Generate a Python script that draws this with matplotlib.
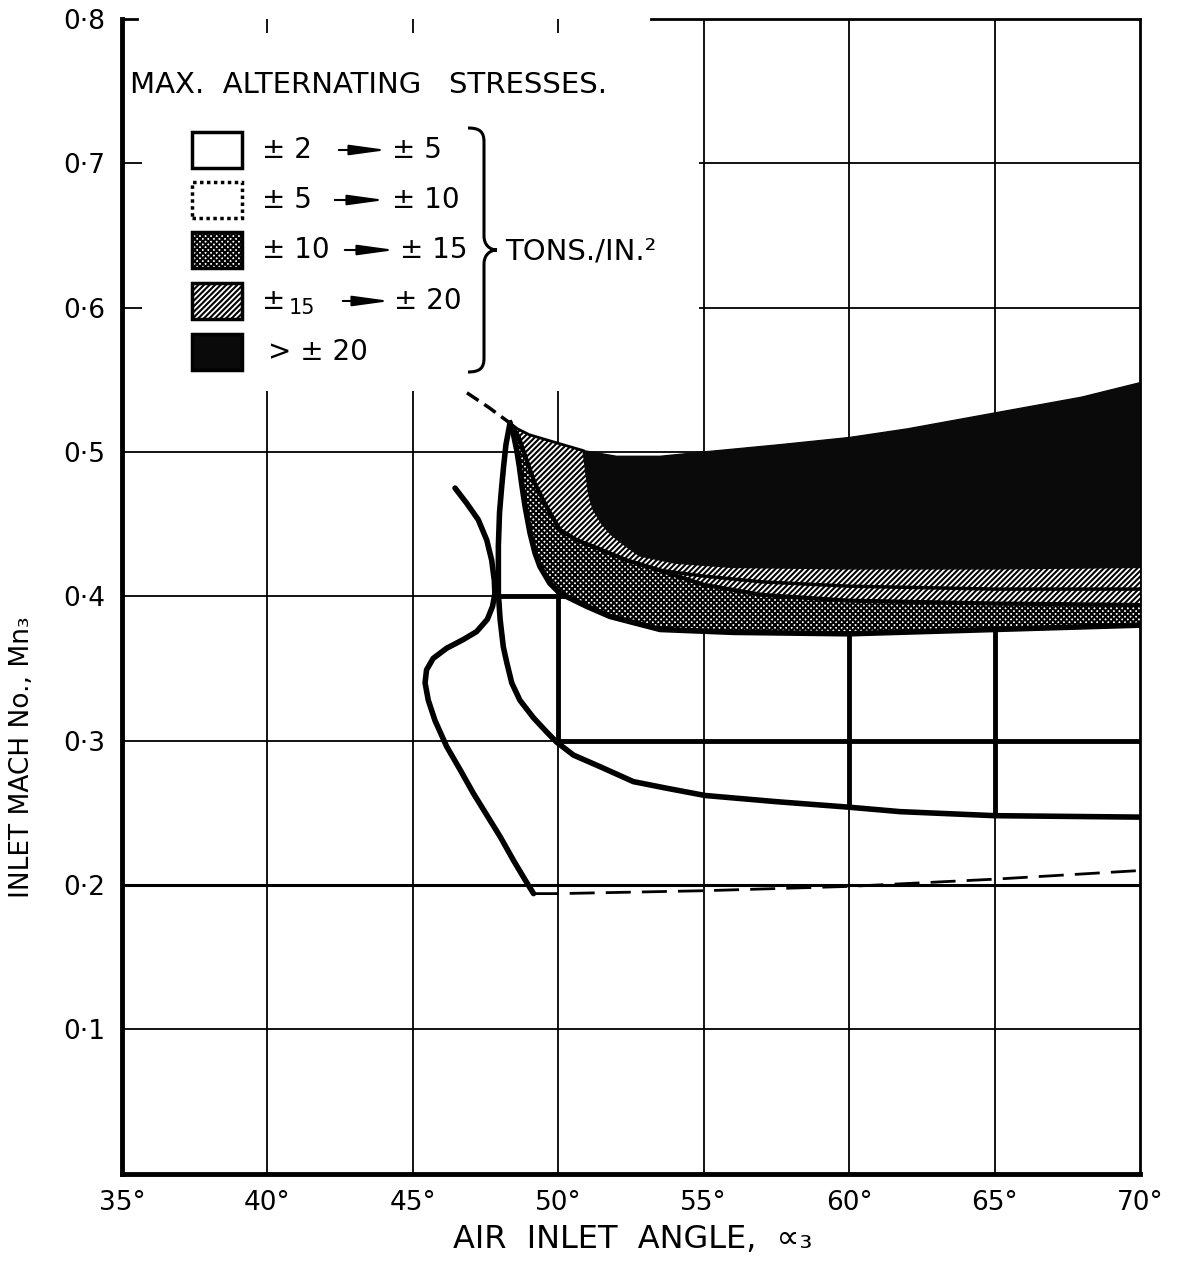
import numpy as np
import matplotlib
matplotlib.use("Agg")
import matplotlib.pyplot as plt
from matplotlib.patches import Polygon, Rectangle, PathPatch, FancyArrowPatch
from matplotlib.path import Path

# boundaries: (air inlet angle [deg], inlet Mach number)
upper_x = [48.34, 48.6, 49.0, 49.5, 50.0, 50.85, 52.0, 53.5, 55.0, 57.6, 60.0, 62.0, 65.0, 68.0, 70.0]
upper_y = [0.520, 0.516, 0.512, 0.509, 0.506, 0.501, 0.497, 0.497, 0.500, 0.505, 0.510, 0.516, 0.527, 0.538, 0.548]

dark_lo_x = [50.85, 50.95, 51.05, 51.2, 51.5, 51.8, 52.3, 52.8, 54.0, 56.0, 60.0, 65.0, 70.0]
dark_lo_y = [0.501, 0.485, 0.470, 0.460, 0.450, 0.443, 0.435, 0.428, 0.423, 0.420, 0.419, 0.419, 0.420]

hatch_lo_x = [48.34, 48.63, 48.91, 49.2, 49.6, 50.06, 50.63, 51.2, 52.35, 53.5, 55.0, 57.0, 60.0, 65.0, 70.0]
hatch_lo_y = [0.520, 0.511, 0.4945, 0.478, 0.462, 0.446, 0.439, 0.4345, 0.425, 0.418, 0.408, 0.401, 0.397, 0.395, 0.394]

mid_x = [53.5, 55.0, 57.0, 60.0, 65.0, 70.0]
mid_y = [0.418, 0.414, 0.410, 0.407, 0.405, 0.405]

cross_lo_x = [48.34, 48.45, 48.57, 48.66, 48.74, 48.86, 49.03, 49.2, 49.37, 49.71, 50.06, 50.98,
              51.78, 53.5, 56.0, 60.0, 65.0, 70.0]
cross_lo_y = [0.520, 0.513, 0.5015, 0.490, 0.478, 0.462, 0.4437, 0.430, 0.4206, 0.409, 0.402, 0.393,
              0.386, 0.377, 0.375, 0.374, 0.377, 0.380]

c5_x = [48.34, 48.2, 48.12, 48.05, 47.98, 47.94, 47.94, 48.0, 48.11, 48.23, 48.4, 48.68, 49.14, 49.6,
        49.94, 50.52, 51.43, 52.58, 53.73, 55.04, 57.5, 59.92, 61.75, 65.0, 70.0]
c5_y = [0.520, 0.505, 0.490, 0.475, 0.458, 0.435, 0.402, 0.384, 0.365, 0.354, 0.340, 0.328, 0.316, 0.306,
        0.299, 0.290, 0.282, 0.2716, 0.267, 0.262, 0.2577, 0.254, 0.2508, 0.248, 0.247]

c2_x = [46.45, 46.85, 47.25, 47.54, 47.71, 47.80, 47.82, 47.74, 47.56, 47.19, 46.73, 46.16, 45.70,
        45.47, 45.42, 45.53, 45.76, 46.16, 46.62, 47.08, 47.54, 48.00, 48.46, 48.86, 49.15]
c2_y = [0.475, 0.4645, 0.453, 0.439, 0.425, 0.411, 0.402, 0.393, 0.384, 0.3755, 0.370, 0.364, 0.357,
        0.349, 0.340, 0.328, 0.314, 0.296, 0.280, 0.2635, 0.2485, 0.2335, 0.217, 0.2035, 0.194]

floor_x = [49.15, 50.0, 55.0, 60.0, 65.0, 70.0]
floor_y = [0.194, 0.194, 0.196, 0.199, 0.204, 0.210]

top_dash_x = [46.86, 47.6, 48.34]
top_dash_y = [0.541, 0.531, 0.520]

x_ticks = [35, 40, 45, 50, 55, 60, 65, 70]
x_labels = ["35°", "40°", "45°", "50°", "55°", "60°", "65°", "70°"]
y_ticks = [0.1, 0.2, 0.3, 0.4, 0.5, 0.6, 0.7, 0.8]
y_labels = ["0·1", "0·2", "0·3", "0·4", "0·5", "0·6", "0·7", "0·8"]

plt.rcParams['hatch.linewidth'] = 1.5

W, H = 1177, 1263
fig = plt.figure(figsize=(W / 100, H / 100), dpi=100)
ax = fig.add_axes([122 / W, 1 - 1173.6 / H, (1140 - 122) / W, (1173.6 - 19) / H])
ax.set_xlim(35, 70)
ax.set_ylim(0, 0.8)


def fx(px):
    return px / W


def fy(py):
    return 1 - py / H


# grid
for x in x_ticks[1:-1]:
    ax.axvline(x, color='k', lw=1.3, zorder=1)
for y in y_ticks[:-1]:
    ax.axhline(y, color='k', lw=2.2 if y == 0.2 else 1.3, zorder=1)

# white legend panel hiding the grid in the upper left
ax.add_patch(Rectangle((35.7, 0.542), 54.85 - 35.7, 0.79 - 0.542, facecolor='white',
                       edgecolor='none', zorder=2))

ux, uy = np.array(upper_x), np.array(upper_y)
i0 = upper_x.index(50.85)

cross_poly = np.column_stack([np.r_[ux, cross_lo_x[::-1]], np.r_[uy, cross_lo_y[::-1]]])
hatch_poly = np.column_stack([np.r_[ux, hatch_lo_x[::-1]], np.r_[uy, hatch_lo_y[::-1]]])
dark_poly = np.column_stack([np.r_[ux[i0:], dark_lo_x[::-1]], np.r_[uy[i0:], dark_lo_y[::-1]]])
band_poly = np.column_stack([np.r_[c5_x, cross_lo_x[::-1]], np.r_[c5_y, cross_lo_y[::-1]]])

ax.add_patch(Polygon(cross_poly, closed=True, facecolor='white', edgecolor='k', hatch='xxxxxx',
                     lw=0, zorder=3))
ax.add_patch(Polygon(hatch_poly, closed=True, facecolor='white', edgecolor='k', hatch='//////',
                     lw=0, zorder=4))
ax.add_patch(Polygon(dark_poly, closed=True, facecolor='#0a0a0a', edgecolor='#0a0a0a',
                     lw=1, zorder=5))

# the +-5..10 zone: grid lines look heavier inside it
band = Polygon(band_poly, closed=True, facecolor='none', edgecolor='none', zorder=0)
ax.add_patch(band)
for x in [50, 60, 65]:
    ln = ax.axvline(x, color='k', lw=3.5, zorder=1.5)
    ln.set_clip_path(band)
for y in [0.3, 0.4]:
    ln = ax.axhline(y, color='k', lw=3.5, zorder=1.5)
    ln.set_clip_path(band)

# contour lines
ax.plot(upper_x[:i0 + 1], upper_y[:i0 + 1], color='k', lw=2, zorder=6)
ax.plot(hatch_lo_x, hatch_lo_y, color='k', lw=3, zorder=6, solid_joinstyle='round')
ax.plot(mid_x, mid_y, color='k', lw=2.5, zorder=6)
ax.plot(cross_lo_x, cross_lo_y, color='k', lw=4, zorder=6, solid_joinstyle='round')
ax.plot(c5_x, c5_y, color='k', lw=4, zorder=6, solid_joinstyle='round', solid_capstyle='round')
ax.plot(c2_x, c2_y, color='k', lw=4, zorder=6, solid_joinstyle='round', solid_capstyle='round')
ax.plot(floor_x, floor_y, color='k', lw=2, ls=(0, (9, 4)), zorder=6)
ax.plot(top_dash_x, top_dash_y, color='k', lw=2.5, ls=(0, (4, 2)), zorder=6)

# axes frame
ax.spines['top'].set_visible(False)
ax.spines['left'].set_linewidth(3.5)
ax.spines['bottom'].set_linewidth(3.5)
ax.spines['right'].set_linewidth(2)
ax.plot([53.2, 70], [0.8, 0.8], color='k', lw=2, clip_on=False, zorder=7)
ax.plot([35, 35.5], [0.8, 0.8], color='k', lw=2, clip_on=False, zorder=7)

ax.set_xticks(x_ticks)
ax.set_xticklabels(x_labels, fontsize=19)
ax.set_yticks(y_ticks)
ax.set_yticklabels(y_labels, fontsize=19)
ax.tick_params(length=0, pad=12)

fig.text(fx(633), fy(1240), "AIR  INLET  ANGLE,  ∝₃", ha='center', va='center', fontsize=23)
fig.text(fx(22), fy(757), "INLET MACH No., Mn₃", ha='center', va='center', fontsize=19,
         rotation=90)

# legend
fig.text(fx(130), fy(85), "MAX.  ALTERNATING   STRESSES.", ha='left', va='center', fontsize=21)

swatches = [dict(facecolor='white', hatch=None, ls='-'),
            dict(facecolor='white', hatch=None, ls=(0, (1, 1))),
            dict(facecolor='white', hatch='xxxxxx', ls='-'),
            dict(facecolor='white', hatch='//////', ls='-'),
            dict(facecolor='#0a0a0a', hatch=None, ls='-')]
row_y = [150, 200, 250, 301, 352]
for sw, ry in zip(swatches, row_y):
    fig.patches.append(Rectangle((fx(192), fy(ry + 18)), 50 / W, 36 / H, transform=fig.transFigure,
                                 facecolor=sw['facecolor'], edgecolor='k', hatch=sw['hatch'],
                                 lw=2.5, ls=sw['ls']))

left_txt = ["± 2", "± 5", "± 10", "±", "> ± 20"]
right_txt = ["± 5", "± 10", "± 15", "± 20", None]
arrow_x = [(336, 390), (332, 388), (342, 398), (340, 393), None]
right_x = [392, 392, 400, 394, None]
for i, ry in enumerate(row_y):
    lx = 268 if i == 4 else 262
    fig.text(fx(lx), fy(ry), left_txt[i], ha='left', va='center', fontsize=20)
    if right_txt[i]:
        fig.text(fx(right_x[i]), fy(ry), right_txt[i], ha='left', va='center', fontsize=20)
        a0, a1 = arrow_x[i]
        fig.patches.append(FancyArrowPatch(
            (fx(a0), fy(ry)), (fx(a1), fy(ry)), transform=fig.transFigure,
            arrowstyle='-|>,head_length=1.6,head_width=0.22', mutation_scale=14, color='k', lw=1.5))
fig.text(fx(289), fy(308), "15", ha='left', va='center', fontsize=15)

# brace
bp = [(468, 128), (480, 128), (484, 132), (484, 142), (484, 236),
      (484, 245), (490, 250), (497, 250), (490, 250), (484, 255), (484, 264),
      (484, 358), (484, 368), (480, 372), (468, 372)]
codes = [Path.MOVETO, Path.CURVE4, Path.CURVE4, Path.CURVE4, Path.LINETO,
         Path.CURVE4, Path.CURVE4, Path.CURVE4, Path.CURVE4, Path.CURVE4, Path.CURVE4,
         Path.LINETO, Path.CURVE4, Path.CURVE4, Path.CURVE4]
fig.patches.append(PathPatch(Path([(fx(px), fy(py)) for px, py in bp], codes),
                             transform=fig.transFigure, fill=False, lw=2.2, edgecolor='k'))
fig.text(fx(505), fy(252), "TONS./IN.²", ha='left', va='center', fontsize=21)

fig.savefig("out.png", dpi=100)
